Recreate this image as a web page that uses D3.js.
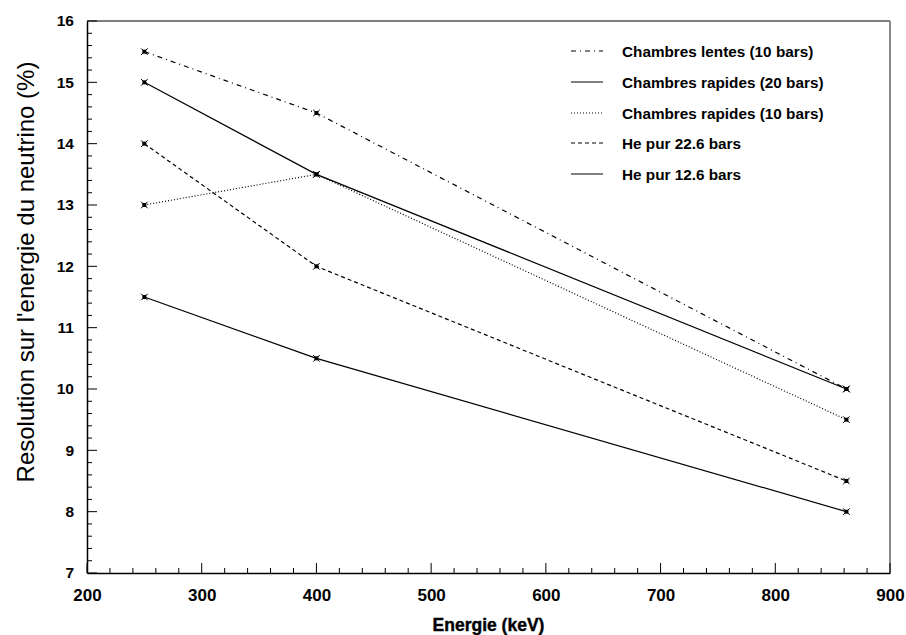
<!DOCTYPE html>
<html><head><meta charset="utf-8">
<script src="https://cdn.jsdelivr.net/npm/d3@7"></script>
<style>body{margin:0;background:#fff}</style>
</head><body>
<svg id="c" width="906" height="635"></svg>
<script>
const energies = [250, 400, 862];
const seriesNames = ["Chambres lentes (10 bars)", "Chambres rapides (20 bars)", "Chambres rapides (10 bars)", "He pur 22.6 bars", "He pur 12.6 bars"];
const lentes10 = [15.5, 14.5, 10.0];
const rapides20 = [15.0, 13.5, 10.0];
const rapides10 = [13.0, 13.5, 9.5];
const he226 = [14.0, 12.0, 8.5];
const he126 = [11.5, 10.5, 8.0];
const xTicks = [200, 300, 400, 500, 600, 700, 800, 900];
const yTicks = [7, 8, 9, 10, 11, 12, 13, 14, 15, 16];
const dashes = ["5,4,1,4", null, "1,2", "4,3", null];

const svg = d3.select("#c");
const L = 87, R = 890, T = 21, B = 573;
const x = d3.scaleLinear().domain([200, 900]).range([L, R]);
const y = d3.scaleLinear().domain([7, 16]).range([B, T]);
const font = "'Liberation Sans', Arial, Helvetica, sans-serif";

// frame
svg.append("line").attr("x1", L).attr("x2", R).attr("y1", T).attr("y2", T).attr("stroke", "#000").attr("stroke-width", 1.2);
svg.append("line").attr("x1", R).attr("x2", R).attr("y1", T).attr("y2", B).attr("stroke", "#888").attr("stroke-width", 2);

// minor ticks
const xMinor = d3.range(200, 901, 20);
const yMinor = d3.range(7, 16.001, 0.2);
svg.append("g").selectAll("line").data(xMinor).join("line")
  .attr("x1", d => x(d)).attr("x2", d => x(d)).attr("y1", B).attr("y2", d => (Math.round(d) % 100 === 0) ? B - 10 : B - 5)
  .attr("stroke", "#000").attr("stroke-width", 1);
svg.append("g").selectAll("line").data(yMinor).join("line")
  .attr("y1", d => y(d)).attr("y2", d => y(d)).attr("x1", L).attr("x2", d => (Math.abs(d - Math.round(d)) < 1e-6) ? L + 10 : L + 5)
  .attr("stroke", "#000").attr("stroke-width", 1);

// axes
const xAxis = svg.append("g").attr("transform", `translate(0,${B})`)
  .call(d3.axisBottom(x).tickValues(xTicks).tickSize(0).tickPadding(16).tickFormat(d3.format("d")));
xAxis.select(".domain").attr("stroke", "#000").attr("stroke-width", 1.5);
xAxis.selectAll("text").attr("font-family", font).attr("font-weight", "bold").attr("font-size", "17px").attr("fill", "#000");
const yAxis = svg.append("g").attr("transform", `translate(${L},0)`)
  .call(d3.axisLeft(y).tickValues(yTicks).tickSize(0).tickPadding(13).tickFormat(d3.format("d")));
yAxis.select(".domain").attr("stroke", "#000").attr("stroke-width", 1.5);
yAxis.selectAll("text").attr("font-family", font).attr("font-weight", "bold").attr("font-size", "15.5px").attr("fill", "#000");

// titles
svg.append("text").attr("x", (L + R) / 2).attr("y", 631).attr("text-anchor", "middle")
  .attr("font-family", font).attr("font-weight", "bold").attr("font-size", "17.5px")
  .attr("stroke", "#000").attr("stroke-width", 0.4).text("Energie (keV)");
svg.append("text").attr("transform", `translate(34,${272}) rotate(-90)`).attr("text-anchor", "middle")
  .attr("font-family", font).attr("font-size", "24px").text("Resolution sur l'energie du neutrino (%)");

// series
const allSeries = [lentes10, rapides20, rapides10, he226, he126];
const line = d3.line().x((d, i) => x(energies[i])).y(d => y(d));
allSeries.forEach((s, k) => {
  svg.append("path").datum(s).attr("d", line).attr("fill", "none").attr("stroke", "#000")
    .attr("stroke-width", 1.2).attr("stroke-dasharray", dashes[k]);
  svg.append("g").selectAll("path").data(s).join("path")
    .attr("transform", (d, i) => `translate(${x(energies[i])},${y(d)})`)
    .attr("d", d3.symbol(d3.symbolSquare, 16)).attr("fill", "#000");
  svg.append("g").selectAll("path").data(s).join("path")
    .attr("transform", (d, i) => `translate(${x(energies[i])},${y(d)})`)
    .attr("d", d3.symbol(d3.symbolTimes, 30)).attr("stroke", "#000").attr("stroke-width", 1);
});

// legend
const legY = [51, 82, 113, 143, 174];
seriesNames.forEach((n, k) => {
  svg.append("line").attr("x1", 571).attr("x2", 603).attr("y1", legY[k]).attr("y2", legY[k])
    .attr("stroke", "#000").attr("stroke-width", 1).attr("stroke-dasharray", dashes[k]);
  svg.append("text").attr("x", 622).attr("y", legY[k] + 5.5).attr("font-family", font).attr("font-weight", "bold")
    .attr("font-size", "15.3px").text(n);
});
</script>
</body></html>
